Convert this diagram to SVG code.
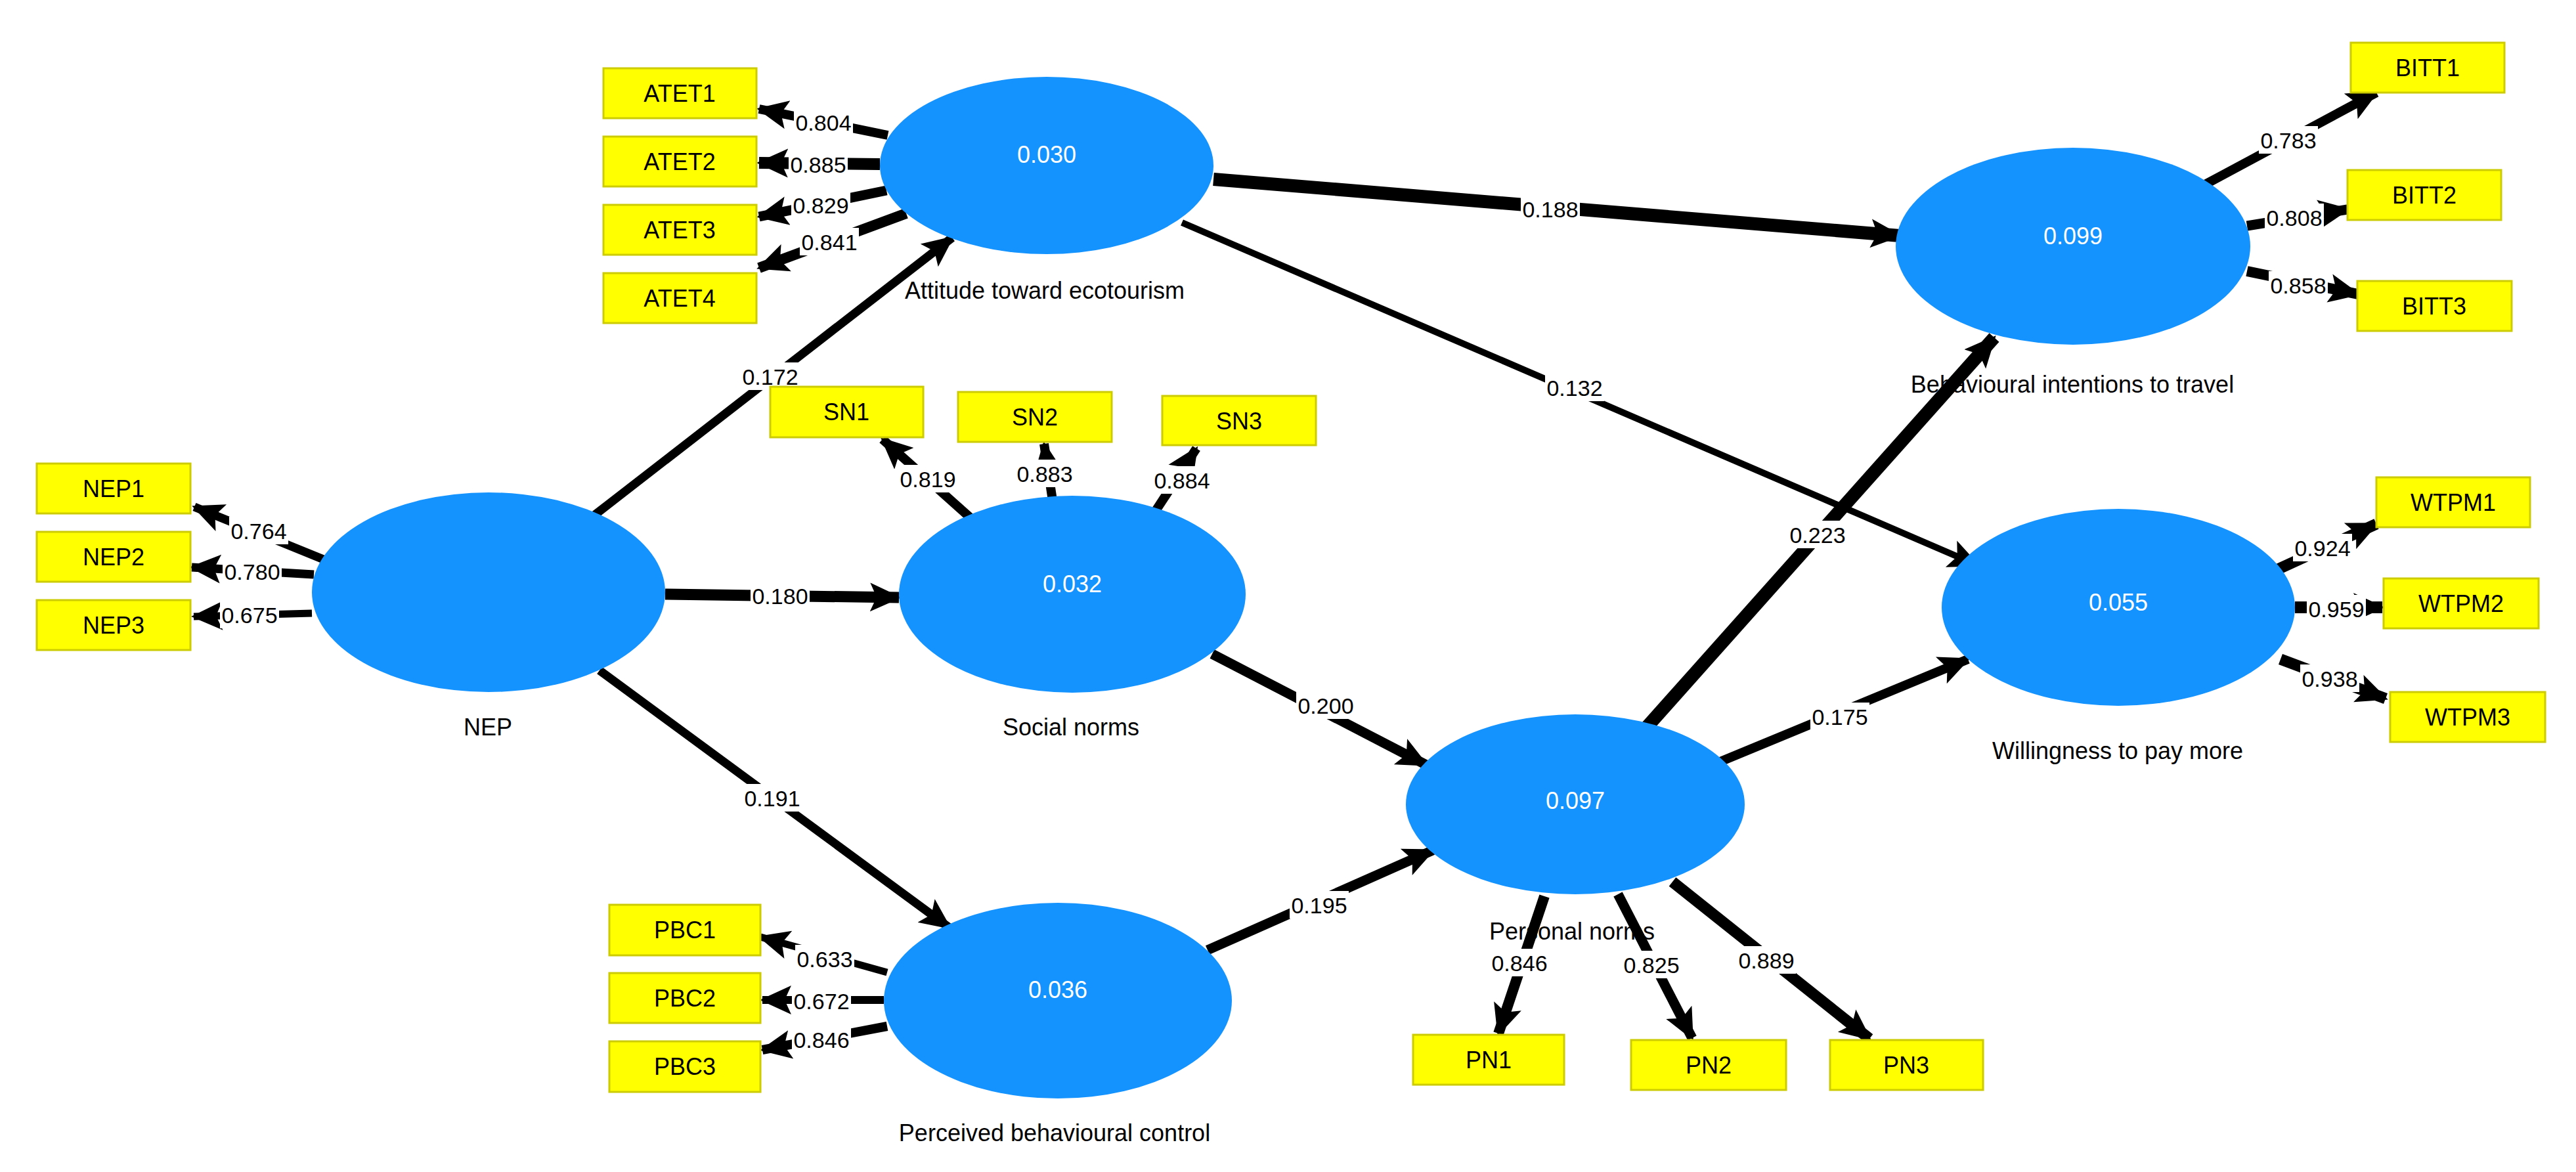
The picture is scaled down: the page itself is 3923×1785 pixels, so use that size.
<svg xmlns="http://www.w3.org/2000/svg" width="3923" height="1785" viewBox="0 0 3923 1785">
<style>
.lv{fill:#1493FF}
.lvv{font-family:"Liberation Sans",Arial,sans-serif;font-size:36px;fill:#fff;text-anchor:middle}
.ln{font-family:"Liberation Sans",Arial,sans-serif;font-size:36px;fill:#000;text-anchor:middle}
.mv{fill:#FFFF00;stroke:#CCCC00;stroke-width:3}
.mt{font-family:"Liberation Sans",Arial,sans-serif;font-size:36px;fill:#000;text-anchor:middle}
.e{stroke:#000;fill:none;marker-end:url(#ah)}
.lb rect{fill:#fff}
.lb text{font-family:"Liberation Sans",Arial,sans-serif;font-size:34px;fill:#000;text-anchor:middle}
</style>
<defs>
<marker id="ah" markerUnits="userSpaceOnUse" markerWidth="50" markerHeight="50" viewBox="0 0 50 50" refX="44" refY="25" orient="auto">
<path d="M0,3 L48,25 L0,47 L10,25 Z" fill="#000"/>
</marker>
</defs>
<rect width="3923" height="1785" fill="#fff"/>
<g id="connectors">
<line class="e" x1="906" y1="784" x2="1450" y2="362" stroke-width="13"/>
<line class="e" x1="1013" y1="905" x2="1369" y2="910" stroke-width="17"/>
<line class="e" x1="913" y1="1021" x2="1446" y2="1413" stroke-width="13"/>
<line class="e" x1="1846" y1="996" x2="2172" y2="1165" stroke-width="15"/>
<line class="e" x1="1839" y1="1447" x2="2182" y2="1295" stroke-width="15"/>
<line class="e" x1="2502" y1="1114" x2="3037" y2="514" stroke-width="20"/>
<line class="e" x1="2615" y1="1162" x2="2997" y2="1004" stroke-width="14"/>
<line class="e" x1="1848" y1="273" x2="2893" y2="359" stroke-width="20"/>
<line class="e" x1="1800" y1="339" x2="3012" y2="861" stroke-width="10"/>
<line class="e" x1="1352" y1="206" x2="1156" y2="166" stroke-width="14"/>
<line class="e" x1="1340" y1="250" x2="1156" y2="248" stroke-width="18"/>
<line class="e" x1="1350" y1="290" x2="1156" y2="330" stroke-width="15"/>
<line class="e" x1="1380" y1="325" x2="1156" y2="408" stroke-width="16"/>
<line class="e" x1="500" y1="855" x2="296" y2="772" stroke-width="13"/>
<line class="e" x1="478" y1="875" x2="292" y2="864" stroke-width="13"/>
<line class="e" x1="475" y1="934" x2="295" y2="939" stroke-width="11"/>
<line class="e" x1="1485" y1="795" x2="1344" y2="669" stroke-width="14"/>
<line class="e" x1="1604" y1="769" x2="1590" y2="676" stroke-width="14"/>
<line class="e" x1="1756" y1="784" x2="1822" y2="683" stroke-width="14"/>
<line class="e" x1="1351" y1="1481" x2="1158" y2="1427" stroke-width="11"/>
<line class="e" x1="1346" y1="1523" x2="1161" y2="1523" stroke-width="12"/>
<line class="e" x1="1351" y1="1563" x2="1161" y2="1599" stroke-width="14"/>
<line class="e" x1="2352" y1="1365" x2="2282" y2="1574" stroke-width="16"/>
<line class="e" x1="2464" y1="1362" x2="2577" y2="1581" stroke-width="15"/>
<line class="e" x1="2547" y1="1343" x2="2847" y2="1582" stroke-width="17"/>
<line class="e" x1="3358" y1="281" x2="3619" y2="141" stroke-width="14"/>
<line class="e" x1="3422" y1="344" x2="3575" y2="319" stroke-width="15"/>
<line class="e" x1="3422" y1="413" x2="3591" y2="448" stroke-width="16"/>
<line class="e" x1="3469" y1="867" x2="3619" y2="798" stroke-width="17"/>
<line class="e" x1="3495" y1="925" x2="3628" y2="925" stroke-width="18"/>
<line class="e" x1="3473" y1="1004" x2="3633" y2="1064" stroke-width="17"/>
</g>
<g id="edge-labels" class="lb">
<rect x="1128" y="552" width="90" height="42"/><text x="1173" y="586">0.172</text>
<rect x="1143" y="886" width="90" height="42"/><text x="1188" y="920">0.180</text>
<rect x="1131" y="1194" width="90" height="42"/><text x="1176" y="1228">0.191</text>
<rect x="1974" y="1053" width="90" height="42"/><text x="2019" y="1087">0.200</text>
<rect x="1964" y="1357" width="90" height="42"/><text x="2009" y="1391">0.195</text>
<rect x="2723" y="793" width="90" height="42"/><text x="2768" y="827">0.223</text>
<rect x="2757" y="1070" width="90" height="42"/><text x="2802" y="1104">0.175</text>
<rect x="2316" y="297" width="90" height="42"/><text x="2361" y="331">0.188</text>
<rect x="2353" y="569" width="90" height="42"/><text x="2398" y="603">0.132</text>
<rect x="1209" y="165" width="90" height="42"/><text x="1254" y="199">0.804</text>
<rect x="1201" y="229" width="90" height="42"/><text x="1246" y="263">0.885</text>
<rect x="1205" y="291" width="90" height="42"/><text x="1250" y="325">0.829</text>
<rect x="1218" y="347" width="90" height="42"/><text x="1263" y="381">0.841</text>
<rect x="349" y="787" width="90" height="42"/><text x="394" y="821">0.764</text>
<rect x="339" y="849" width="90" height="42"/><text x="384" y="883">0.780</text>
<rect x="335" y="915" width="90" height="42"/><text x="380" y="949">0.675</text>
<rect x="1368" y="708" width="90" height="42"/><text x="1413" y="742">0.819</text>
<rect x="1546" y="700" width="90" height="42"/><text x="1591" y="734">0.883</text>
<rect x="1755" y="710" width="90" height="42"/><text x="1800" y="744">0.884</text>
<rect x="1211" y="1439" width="90" height="42"/><text x="1256" y="1473">0.633</text>
<rect x="1206" y="1503" width="90" height="42"/><text x="1251" y="1537">0.672</text>
<rect x="1206" y="1562" width="90" height="42"/><text x="1251" y="1596">0.846</text>
<rect x="2269" y="1445" width="90" height="42"/><text x="2314" y="1479">0.846</text>
<rect x="2470" y="1448" width="90" height="42"/><text x="2515" y="1482">0.825</text>
<rect x="2645" y="1441" width="90" height="42"/><text x="2690" y="1475">0.889</text>
<rect x="3440" y="192" width="90" height="42"/><text x="3485" y="226">0.783</text>
<rect x="3449" y="310" width="90" height="42"/><text x="3494" y="344">0.808</text>
<rect x="3455" y="413" width="90" height="42"/><text x="3500" y="447">0.858</text>
<rect x="3492" y="813" width="90" height="42"/><text x="3537" y="847">0.924</text>
<rect x="3513" y="906" width="90" height="42"/><text x="3558" y="940">0.959</text>
<rect x="3503" y="1012" width="90" height="42"/><text x="3548" y="1046">0.938</text>
</g>
<g id="ATE"><ellipse class="lv" cx="1594" cy="252" rx="254" ry="135"/><text class="lvv" x="1594" y="248">0.030</text><text class="ln" x="1591" y="455">Attitude toward ecotourism</text></g>
<g id="NEP"><ellipse class="lv" cx="744" cy="902" rx="269" ry="152"/><text class="ln" x="743" y="1120">NEP</text></g>
<g id="SN"><ellipse class="lv" cx="1633" cy="905" rx="264" ry="150"/><text class="lvv" x="1633" y="902">0.032</text><text class="ln" x="1631" y="1120">Social norms</text></g>
<g id="PBC"><ellipse class="lv" cx="1611" cy="1524" rx="265" ry="149"/><text class="lvv" x="1611" y="1520">0.036</text><text class="ln" x="1606" y="1738">Perceived behavioural control</text></g>
<g id="PN"><ellipse class="lv" cx="2399" cy="1225" rx="258" ry="137"/><text class="lvv" x="2399" y="1232">0.097</text><text class="ln" x="2394" y="1431">Personal norms</text></g>
<g id="BIT"><ellipse class="lv" cx="3157" cy="375" rx="270" ry="150"/><text class="lvv" x="3157" y="372">0.099</text><text class="ln" x="3156" y="598">Behavioural intentions to travel</text></g>
<g id="WTP"><ellipse class="lv" cx="3226" cy="925" rx="269" ry="150"/><text class="lvv" x="3226" y="930">0.055</text><text class="ln" x="3225" y="1156">Willingness to pay more</text></g>
<g id="ATET1"><rect class="mv" x="919" y="104" width="233" height="76"/><text class="mt" x="1035" y="155">ATET1</text></g>
<g id="ATET2"><rect class="mv" x="919" y="208" width="233" height="76"/><text class="mt" x="1035" y="259">ATET2</text></g>
<g id="ATET3"><rect class="mv" x="919" y="312" width="233" height="76"/><text class="mt" x="1035" y="363">ATET3</text></g>
<g id="ATET4"><rect class="mv" x="919" y="416" width="233" height="76"/><text class="mt" x="1035" y="467">ATET4</text></g>
<g id="NEP1"><rect class="mv" x="56" y="706" width="234" height="76"/><text class="mt" x="173" y="757">NEP1</text></g>
<g id="NEP2"><rect class="mv" x="56" y="810" width="234" height="76"/><text class="mt" x="173" y="861">NEP2</text></g>
<g id="NEP3"><rect class="mv" x="56" y="914" width="234" height="76"/><text class="mt" x="173" y="965">NEP3</text></g>
<g id="SN1"><rect class="mv" x="1173" y="589" width="233" height="77"/><text class="mt" x="1289" y="640">SN1</text></g>
<g id="SN2"><rect class="mv" x="1459" y="597" width="234" height="76"/><text class="mt" x="1576" y="648">SN2</text></g>
<g id="SN3"><rect class="mv" x="1770" y="603" width="234" height="75"/><text class="mt" x="1887" y="654">SN3</text></g>
<g id="PBC1"><rect class="mv" x="928" y="1378" width="230" height="77"/><text class="mt" x="1043" y="1429">PBC1</text></g>
<g id="PBC2"><rect class="mv" x="928" y="1482" width="230" height="76"/><text class="mt" x="1043" y="1533">PBC2</text></g>
<g id="PBC3"><rect class="mv" x="928" y="1586" width="230" height="77"/><text class="mt" x="1043" y="1637">PBC3</text></g>
<g id="PN1"><rect class="mv" x="2152" y="1576" width="230" height="76"/><text class="mt" x="2267" y="1627">PN1</text></g>
<g id="PN2"><rect class="mv" x="2484" y="1584" width="236" height="76"/><text class="mt" x="2602" y="1635">PN2</text></g>
<g id="PN3"><rect class="mv" x="2787" y="1584" width="233" height="76"/><text class="mt" x="2903" y="1635">PN3</text></g>
<g id="BITT1"><rect class="mv" x="3580" y="65" width="234" height="76"/><text class="mt" x="3697" y="116">BITT1</text></g>
<g id="BITT2"><rect class="mv" x="3575" y="259" width="234" height="76"/><text class="mt" x="3692" y="310">BITT2</text></g>
<g id="BITT3"><rect class="mv" x="3590" y="428" width="235" height="76"/><text class="mt" x="3707" y="479">BITT3</text></g>
<g id="WTPM1"><rect class="mv" x="3619" y="727" width="234" height="76"/><text class="mt" x="3736" y="778">WTPM1</text></g>
<g id="WTPM2"><rect class="mv" x="3630" y="881" width="236" height="76"/><text class="mt" x="3748" y="932">WTPM2</text></g>
<g id="WTPM3"><rect class="mv" x="3640" y="1054" width="236" height="76"/><text class="mt" x="3758" y="1105">WTPM3</text></g>
</svg>
